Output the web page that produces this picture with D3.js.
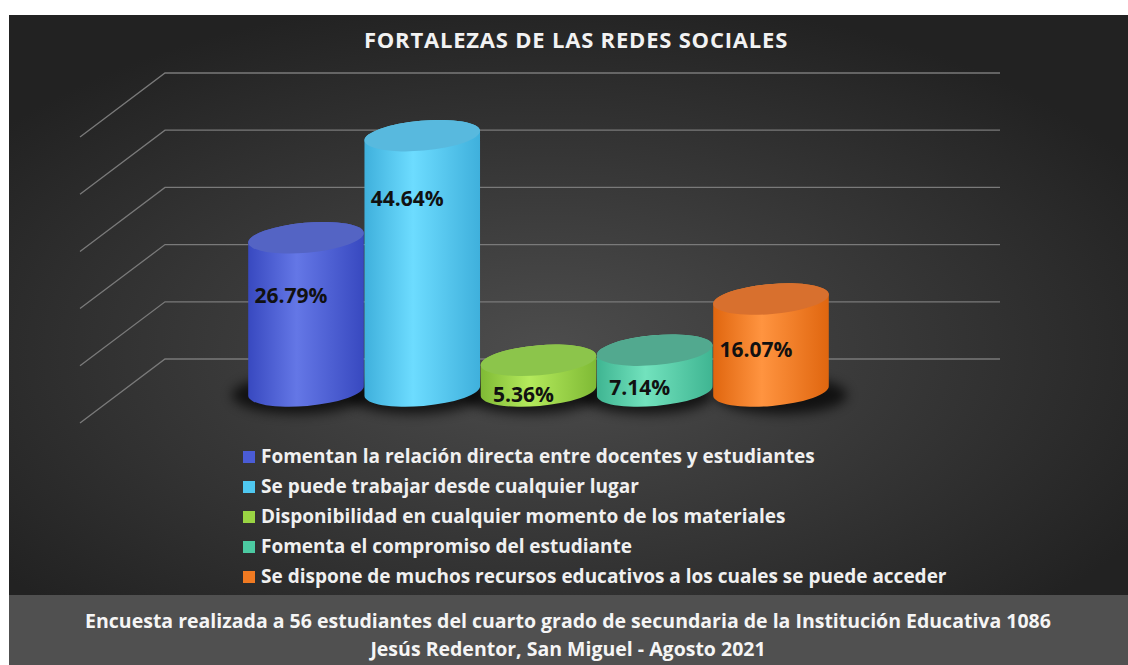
<!DOCTYPE html>
<html>
<head>
<meta charset="utf-8">
<script src="https://cdn.jsdelivr.net/npm/d3@7"></script>
<style>
  body { margin: 0; background: #fff; }
  svg { display: block; font-family: "Open Sans", Lato, sans-serif; }
</style>
</head>
<body>
<svg width="1128" height="665"></svg>
<script>
(function (d3) {
    'use strict';

    // data
    const categories = [
        "Fomentan la relación directa entre docentes y estudiantes",
        "Se puede trabajar desde cualquier lugar",
        "Disponibilidad en cualquier momento de los materiales",
        "Fomenta el compromiso del estudiante",
        "Se dispone de muchos recursos educativos a los cuales se puede acceder"
    ];
    const values = [26.79, 44.64, 5.36, 7.14, 16.07];
    const tickValues = [0, 10, 20, 30, 40, 50];
    const title = "FORTALEZAS DE LAS REDES SOCIALES";
    const footer = [
        "Encuesta realizada a 56 estudiantes del cuarto grado de secundaria de la Institución Educativa 1086",
        "Jesús Redentor, San Miguel - Agosto 2021"
    ];

    // colours: [edge, light, top]
    const palette = [
        ["#3849c0", "#6477e6", "#5464c4"],
        ["#3fb0dc", "#6ddcff", "#58b9de"],
        ["#7fba35", "#b4ea5c", "#8cc54b"],
        ["#3fb592", "#72e2bd", "#52a98f"],
        ["#e0660f", "#ff9440", "#d8702e"]
    ];
    const swatch = ["#4a5cd6", "#4fc8f0", "#9ad443", "#4ccaa2", "#f07a22"];

    const W = 1128, H = 665;
    const svg = d3.select('svg');
    const defs = svg.append('defs');

    // background panel
    const bg = defs.append('radialGradient').attr('id', 'bg')
        .attr('cx', '48%').attr('cy', '58%').attr('r', '62%');
    bg.append('stop').attr('offset', '0%').attr('stop-color', '#4d4d4d');
    bg.append('stop').attr('offset', '100%').attr('stop-color', '#222');

    svg.append('rect').attr('x', 9).attr('y', 15).attr('width', W - 9).attr('height', 580)
        .attr('fill', 'url(#bg)');
    svg.append('rect').attr('x', 9).attr('y', 595).attr('width', W - 9).attr('height', H - 595)
        .attr('fill', '#505050');

    // 3d axes: back wall and front edge of the side wall
    const yBack = d3.scaleLinear().domain([0, 50]).range([359, 73]);
    const yFront = d3.scaleLinear().domain([0, 50]).range([423, 137]);
    const yMid = v => (yBack(v) + yFront(v)) / 2;
    const xFront = 80, xBack = 165, xRight = 1000;

    const grid = svg.append('g').attr('stroke', '#7a7a7a').attr('stroke-width', 1.3).attr('fill', 'none');
    grid.selectAll('path').data(tickValues).enter().append('path')
        .attr('d', t => `M${xFront},${yFront(t)}L${xBack},${yBack(t)}L${xRight},${yBack(t)}`);

    // cylinders
    const x = d3.scalePoint().domain(categories).range([306, 771]);
    const rx = 58, ry = 15, tilt = -5;
    const tr = tilt * Math.PI / 180;
    const ex = rx * Math.cos(tr), ey = rx * Math.sin(tr);

    const blur = defs.append('filter').attr('id', 'shadow')
        .attr('x', '-50%').attr('y', '-100%').attr('width', '200%').attr('height', '300%');
    blur.append('feGaussianBlur').attr('stdDeviation', 6);

    palette.forEach((p, i) => {
        const g = defs.append('linearGradient').attr('id', 'body' + i)
            .attr('x1', '0').attr('x2', '1').attr('y1', '0').attr('y2', '0');
        g.append('stop').attr('offset', '0%').attr('stop-color', p[0]);
        g.append('stop').attr('offset', '42%').attr('stop-color', p[1]);
        g.append('stop').attr('offset', '100%').attr('stop-color', p[0]);
    });

    const bars = categories.map((c, i) => ({ c, v: values[i], i }));

    svg.append('g').selectAll('ellipse').data(bars).enter().append('ellipse')
        .attr('cx', d => x(d.c) + (d.i === 4 ? 10 : -8))
        .attr('cy', yMid(0) + 4)
        .attr('rx', rx + 8).attr('ry', ry + 4)
        .attr('fill', '#000').attr('opacity', 0.7)
        .attr('filter', 'url(#shadow)');

    const cyl = svg.append('g').selectAll('g').data(bars).enter().append('g');

    cyl.append('path')
        .attr('fill', d => `url(#body${d.i})`)
        .attr('d', d => {
            const cx = x(d.c), yb = yMid(0), yt = yMid(d.v);
            return `M${cx - ex},${yt - ey}L${cx - ex},${yb - ey}` +
                `A${rx},${ry} ${tilt} 0 0 ${cx + ex},${yb + ey}` +
                `L${cx + ex},${yt + ey}` +
                `A${rx},${ry} ${tilt} 0 0 ${cx - ex},${yt - ey}Z`;
        });

    cyl.append('ellipse')
        .attr('cx', d => x(d.c)).attr('cy', d => yMid(d.v))
        .attr('rx', rx).attr('ry', ry)
        .attr('transform', d => `rotate(${tilt},${x(d.c)},${yMid(d.v)})`)
        .attr('fill', d => palette[d.i][2]);

    // data labels
    cyl.append('text')
        .attr('x', d => x(d.c) - 15)
        .attr('y', d => {
            const h = yMid(0) - yMid(d.v);
            return yMid(d.v) + 20 + 45 * (1 - Math.exp(-h / 80)) + 7;
        })
        .attr('text-anchor', 'middle')
        .attr('font-size', 21).attr('font-weight', 700).attr('fill', '#111')
        .text(d => d3.format('.2f')(d.v) + '%');

    // title
    svg.append('text').attr('x', 576).attr('y', 48).attr('text-anchor', 'middle')
        .attr('font-size', 22).attr('font-weight', 700).attr('fill', '#f2f2f2')
        .attr('letter-spacing', 0.8)
        .text(title);

    // legend
    const legend = svg.append('g').selectAll('g').data(categories).enter().append('g')
        .attr('transform', (d, i) => `translate(243,${463 + i * 30})`);
    legend.append('rect').attr('x', 0).attr('y', -12).attr('width', 12).attr('height', 12)
        .attr('fill', (d, i) => swatch[i]);
    legend.append('text').attr('x', 18).attr('y', 0)
        .attr('font-size', 19).attr('font-weight', 700).attr('fill', '#f0f0f0')
        .text(d => d);

    // footer
    svg.append('g').selectAll('text').data(footer).enter().append('text')
        .attr('x', 568).attr('y', (d, i) => 628 + i * 28)
        .attr('text-anchor', 'middle')
        .attr('font-size', 19.5).attr('font-weight', 700).attr('fill', '#f5f5f5')
        .text(d => d);
}(d3));
</script>
</body>
</html>
